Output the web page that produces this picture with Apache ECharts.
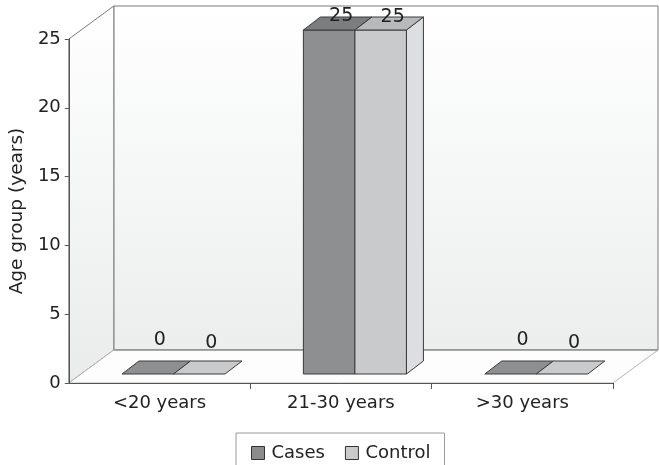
<!DOCTYPE html>
<html>
<head>
<meta charset="utf-8">
<script src="https://cdn.jsdelivr.net/npm/echarts@6/dist/echarts.min.js"></script>
<style>
  html, body { margin: 0; padding: 0; background: #ffffff; }
  #chart { width: 659px; height: 465px; }
</style>
</head>
<body>
<div id="chart"></div>
<script>
// ---- data ----
const categories = ['<20 years', '21-30 years', '>30 years'];
const seriesNames = ['Cases', 'Control'];
const casesValues = [0, 25, 0];
const controlValues = [0, 25, 0];
const yMin = 0, yMax = 25, yStep = 5;
const yAxisTitle = 'Age group (years)';

// ---- style constants ----
const FONT = 'DejaVu Sans';
const DX = 45, DY = -33;          // wall depth
const F_DX = 14, F_DY = -9;       // bar front plane offset
const B_DX = 17, B_DY = -13;      // bar depth
const BAR_FRAC = 0.284;           // bar width / category width
const EDGE = '#3a3a3a';
const palette = {
  Cases:   { front: '#8d8f91', top: '#7b7d7f', side: '#a2a4a6', legend: '#8a8c8e' },
  Control: { front: '#c8cacc', top: '#b7b9bb', side: '#dcdee1', legend: '#c8cacc' }
};

const chart = echarts.init(document.getElementById('chart'), null, { renderer: 'canvas' });

function renderWalls(params, api) {
  const cs = params.coordSys;
  const x0 = cs.x, x1 = cs.x + cs.width, yt = cs.y, yb = cs.y + cs.height;
  return {
    type: 'group',
    children: [
      { type: 'rect', shape: { x: x0 + DX, y: yt + DY, width: cs.width, height: cs.height },
        style: { fill: new echarts.graphic.LinearGradient(0, 0, 0, 1, [
          { offset: 0, color: '#ffffff' }, { offset: 1, color: '#eceeee' }]),
          stroke: '#7a7a7a', lineWidth: 1 } },
      { type: 'polygon', shape: { points: [[x0, yt], [x0 + DX, yt + DY], [x0 + DX, yb + DY], [x0, yb]] },
        style: { fill: new echarts.graphic.LinearGradient(0, 0, 0, 1, [
          { offset: 0, color: '#ffffff' }, { offset: 1, color: '#eaecec' }]),
          stroke: '#7a7a7a', lineWidth: 1 } },
      { type: 'polygon', shape: { points: [[x0, yb], [x1, yb], [x1 + DX, yb + DY], [x0 + DX, yb + DY]] },
        style: { fill: '#fdfdfd', stroke: '#b5b5b5', lineWidth: 1 } },
      { type: 'line', shape: { x1: x0 + DX, y1: yb + DY, x2: x1 + DX, y2: yb + DY },
        style: { stroke: '#7a7a7a', lineWidth: 1 } }
    ]
  };
}

function makeBarRenderer(name, seriesIdx) {
  const col = palette[name];
  return function (params, api) {
    const cat = api.value(0), v = api.value(1);
    const base = api.coord([cat, yMin]);
    const topPt = api.coord([cat, v]);
    const band = api.size([1, 0])[0];
    const w = band * BAR_FRAC;
    const x = base[0] - w + seriesIdx * w + F_DX;
    const yb = base[1] + F_DY;
    const yt = topPt[1] + F_DY;
    const cs = params.coordSys;
    const labelY = Math.max(yt + B_DY - 21 + seriesIdx * 3, cs.y + DY + 10 + seriesIdx);
    const children = [];
    if (yb - yt > 0.5) {
      children.push({ type: 'polygon', shape: { points: [[x + w, yt], [x + w + B_DX, yt + B_DY], [x + w + B_DX, yb + B_DY], [x + w, yb]] },
        style: { fill: col.side, stroke: EDGE, lineWidth: 1 } });
      children.push({ type: 'rect', shape: { x: x, y: yt, width: w, height: yb - yt },
        style: { fill: col.front, stroke: EDGE, lineWidth: 1 } });
    }
    children.push({ type: 'polygon', shape: { points: [[x, yt], [x + w, yt], [x + w + B_DX, yt + B_DY], [x + B_DX, yt + B_DY]] },
      style: { fill: v === 0 ? col.front : col.top, stroke: EDGE, lineWidth: 1 } });
    children.push({ type: 'text', x: x + w / 2 + B_DX - 5, y: labelY,
      style: { text: String(v), fill: '#222', font: '19px "' + FONT + '"', align: 'center', verticalAlign: 'middle' } });
    return { type: 'group', children: children };
  };
}

const option = {
  backgroundColor: '#ffffff',
  animation: false,
  grid: { left: 68, right: 46, top: 39, bottom: 82 },
  legend: {
    data: seriesNames.map(n => ({ name: n, icon: 'rect', itemStyle: { color: palette[n].legend, borderColor: '#333', borderWidth: 1 } })),
    left: 236, top: 433,
    padding: [11, 14, 11, 15],
    itemWidth: 13, itemHeight: 13, itemGap: 20,
    borderColor: '#9a9a9a', borderWidth: 1, backgroundColor: '#ffffff',
    textStyle: { fontFamily: FONT, fontSize: 18, color: '#222', padding: [0, 0, 0, 2] }
  },
  xAxis: {
    type: 'category', data: categories,
    axisLine: { show: true, lineStyle: { color: '#555', width: 1 } },
    axisTick: { show: true, length: 6, interval: function (i) { return i !== 0; }, lineStyle: { color: '#555' } },
    axisLabel: { fontFamily: FONT, fontSize: 18, color: '#222', margin: 11 },
    splitLine: { show: false }
  },
  yAxis: {
    type: 'value', min: yMin, max: yMax, interval: yStep,
    name: yAxisTitle, nameLocation: 'middle', nameGap: 31,
    nameTextStyle: { fontFamily: FONT, fontSize: 18.5, color: '#222' },
    axisLine: { show: true, lineStyle: { color: '#555', width: 1 } },
    axisTick: { show: true, length: 4, lineStyle: { color: '#555' } },
    axisLabel: { fontFamily: FONT, fontSize: 18, color: '#222', margin: 8 },
    splitLine: { show: false }
  },
  series: [
    { type: 'custom', name: '__walls', z: -1, silent: true, renderItem: renderWalls, data: [[0, 0]] },
    { type: 'custom', name: 'Cases', renderItem: makeBarRenderer('Cases', 0),
      itemStyle: { color: palette.Cases.legend },
      data: casesValues.map((v, i) => [i, v]) },
    { type: 'custom', name: 'Control', renderItem: makeBarRenderer('Control', 1),
      itemStyle: { color: palette.Control.legend },
      data: controlValues.map((v, i) => [i, v]) }
  ]
};
chart.setOption(option);
</script>
</body>
</html>
